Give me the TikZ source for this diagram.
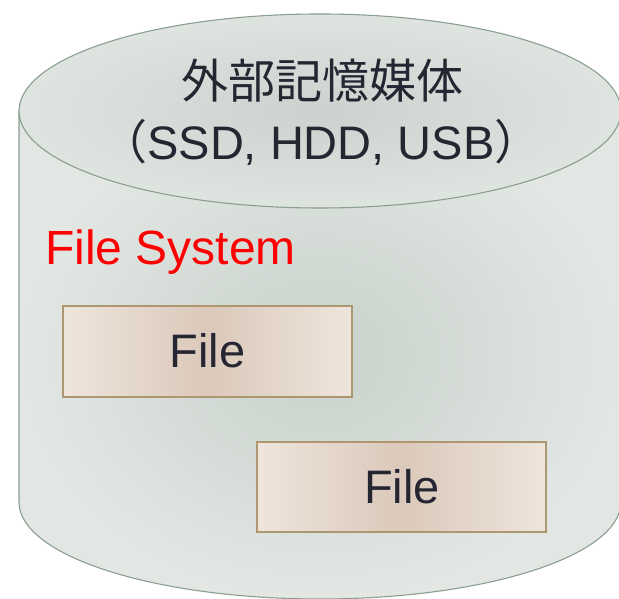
\documentclass[tikz,border=0pt]{standalone}
\usepackage{fontspec}
\setmainfont{Liberation Sans}
\newfontfamily\cjk{Noto Sans CJK JP}
\definecolor{cylline}{HTML}{8A9E92}
\definecolor{cylin}{HTML}{C8D1CB}
\definecolor{cylout}{HTML}{E2E7E3}
\definecolor{toptop}{HTML}{D6DDD8}
\definecolor{boxline}{HTML}{AE9670}
\definecolor{boxedge}{HTML}{EEE5DD}
\definecolor{boxmid}{HTML}{DBC9BA}
\definecolor{txt}{HTML}{262633}
\tikzset{
  filebox/.style={draw=boxline, line width=1.3pt, left color=boxedge, right color=boxedge, middle color=boxmid},
  bigtext/.style={font=\fontsize{47}{56}\selectfont, text=txt, inner sep=0pt},
}
\begin{document}
\begin{tikzpicture}[x=1pt,y=1pt]
\useasboundingbox (0,0) rectangle (619,599);
% cylinder body
\shade[inner color=cylin, outer color=cylout, draw=cylline, line width=1.1pt]
  (19,488) -- (19,97) arc[start angle=180, end angle=360, x radius=301pt, y radius=97pt] -- (621,488) -- cycle;
% top ellipse
\shade[inner color=toptop!95!black, outer color=toptop!80!white, draw=cylline, line width=1.1pt]
  (320,488) ellipse[x radius=301pt, y radius=97pt];
\node[bigtext, anchor=base] (title) at (322,500) {\cjk 外部記憶媒体};
\node[bigtext, anchor=base] (media) at (321,439) {{\cjk （}SSD, HDD, USB{\cjk ）}};
\node[bigtext, anchor=base west, text=red, font=\fontsize{48}{56}\selectfont] (fs) at (45,334) {File System};
% file boxes
\path[filebox] (63,202) rectangle (352,293);
\path[filebox] (257,67) rectangle (546,157);
\node[bigtext, anchor=base] (f1) at (207.5,231) {File};
\node[bigtext, anchor=base] (f2) at (402,95) {File};
\end{tikzpicture}
\end{document}
